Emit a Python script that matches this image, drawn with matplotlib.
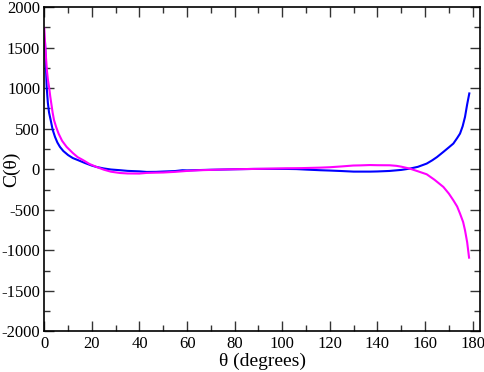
import matplotlib
matplotlib.use("Agg")
import matplotlib.pyplot as plt
from matplotlib.ticker import MultipleLocator

plt.rcParams['font.family'] = ['Liberation Serif', 'DejaVu Serif']
plt.rcParams['axes.unicode_minus'] = False

theta_blue = [0.3, 0.6, 1.0, 1.5, 2.0, 2.7, 3.5, 4.5, 5.5, 6.6, 8, 10, 12, 14.3, 17, 20, 22, 25, 28,
              32, 35, 40, 43, 47, 50, 55, 58, 60, 65, 70, 74, 80, 88, 95, 102, 106, 110, 116, 120, 125,
              130, 137, 140, 145, 150, 153.6, 157, 160.7, 163, 165, 167.7, 170, 171.9, 173.5,
              174.7, 175.8, 176.8, 177.7, 178.6]
c_blue = [1560, 1350, 1016, 820, 700, 605, 490, 400, 330, 275, 225, 175, 138, 111, 78, 45, 28, 10, -3,
          -12, -20, -26, -33, -32, -28, -22, -12, -14, -10, -6, -4, 0, 4, 4, 4, 2, -4, -12, -16, -22,
          -29, -29, -27, -21, -8, 8, 30, 70, 110, 150, 214, 270, 317, 385,
          440, 530, 646, 800, 935]

theta_mag = [0.0, 0.3, 0.6, 1.1, 1.5, 2.0, 2.5, 3.0, 3.5, 4.1, 5.0, 6.0, 7.5, 9.4, 12, 14, 16.4, 19,
             22, 25, 28, 31.8, 35, 40, 43, 47, 50, 55, 59.8, 65, 70, 73.8, 80, 87.7, 95, 101.8, 108,
             115.8, 120, 125, 129.8, 133, 136.8, 140, 145.2, 148, 150, 153.6, 157, 160.7, 164, 167.7,
             170, 171.9, 173.5, 174.7, 176, 176.8, 177.7, 178.5]
c_mag = [1737, 1580, 1430, 1220, 1110, 1016, 900, 800, 700, 605, 520, 440, 350, 275, 200, 150, 111, 65,
         28, -5, -30, -46, -52, -53, -45, -42, -40, -32, -21, -12, -8, -4, 0, 4, 8, 12, 14,
         20, 25, 35, 46, 48, 52, 50, 49, 42, 32, 8, -25, -62, -130, -218,
         -300, -383, -460, -547, -650, -753, -900, -1090]

xticks = [0, 20, 40, 60, 80, 100, 120, 140, 160, 180]
yticks = [-2000, -1500, -1000, -500, 0, 500, 1000, 1500, 2000]

fig = plt.figure(figsize=(4.85, 3.72), dpi=100)
ax = fig.add_axes([0.0913, 0.109, 0.8994, 0.872])

ax.plot(theta_blue, c_blue, color='#0000ff', lw=1.5)
ax.plot(theta_mag, c_mag, color='#ff00ff', lw=1.5)

ax.set_xlim(0, 183.3)
ax.set_ylim(-2000, 2000)
ax.set_xticks(xticks)
ax.set_yticks(yticks)
ax.xaxis.set_minor_locator(MultipleLocator(10))
ax.yaxis.set_minor_locator(MultipleLocator(250))
ax.tick_params(which='both', direction='in', top=True, right=True, color='#333333', width=1)
ax.tick_params(which='major', length=7, labelsize=12, pad=3)
ax.tick_params(which='minor', length=4)
for s in ax.spines.values():
    s.set_linewidth(1.2)

ax.set_xlabel('θ (degrees)', fontsize=14)
ax.set_ylabel('C(θ)', fontsize=14)
ax.xaxis.set_label_coords(0.5, -0.064)
ax.yaxis.set_label_coords(-0.056, 0.5)

fig.savefig('out.png', dpi=100)
